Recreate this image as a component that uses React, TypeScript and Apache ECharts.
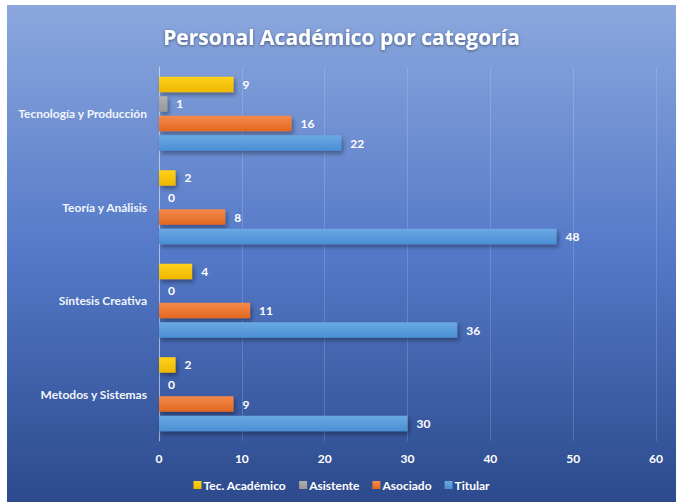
import React, { useEffect, useRef } from "react";
import * as echarts from "echarts";

const categories = ["Metodos y Sistemas", "Síntesis Creativa", "Teoría y Análisis", "Tecnología y Producción"];
const titular = [30, 36, 48, 22];
const asociado = [9, 11, 8, 16];
const asistente = [0, 0, 0, 1];
const tecAcademico = [2, 4, 2, 9];
const legendNames = ["Tec. Académico", "Asistente", "Asociado", "Titular"];

const FONT = "Lato";

function grad(top: string, bottom: string) {
  return new echarts.graphic.LinearGradient(0, 0, 0, 1, [
    { offset: 0, color: top },
    { offset: 1, color: bottom },
  ]);
}

export default function App() {
  const ref = useRef<HTMLDivElement>(null);
  useEffect(() => {
    document.body.style.margin = "0";
    const chart = echarts.init(ref.current!, null, { renderer: "svg" });
    const label = {
      show: true,
      position: "right" as const,
      distance: 9,
      color: "#ffffff",
      fontFamily: FONT,
      fontWeight: "bold" as const,
      fontSize: 12,
    };
    const shadow = {
      shadowColor: "rgba(0,0,0,0.35)",
      shadowBlur: 4,
      shadowOffsetX: 2,
      shadowOffsetY: 3,
    };
    const mk = (name: string, data: number[], top: string, bottom: string) => ({
      name,
      type: "bar",
      data,
      barWidth: 15.5,
      barGap: "26%",
      label,
      itemStyle: { color: grad(top, bottom), ...shadow },
      emphasis: { disabled: true },
    });
    chart.setOption({
      animation: false,
      backgroundColor: new echarts.graphic.LinearGradient(0, 0, 0, 1, [
        { offset: 0, color: "#8ba7dd" },
        { offset: 0.5, color: "#5479c8" },
        { offset: 1, color: "#2c4a8c" },
      ]),
      title: {
        text: "Personal Académico por categoría",
        left: "center",
        top: 16,
        textStyle: {
          color: "#ffffff",
          fontFamily: "Open Sans",
          fontWeight: "bold",
          fontSize: 21,
          textShadowColor: "rgba(0,0,0,0.45)",
          textShadowBlur: 3,
          textShadowOffsetY: 1,
        },
      },
      legend: {
        data: legendNames,
        bottom: 6,
        left: "center",
        icon: "rect",
        itemWidth: 8,
        itemHeight: 8,
        itemGap: 13,
        selectedMode: false,
        textStyle: { color: "#ffffff", fontFamily: FONT, fontWeight: "bold", fontSize: 12, padding: [0, 0, 0, -3] },
      },
      grid: { left: 152, right: 20, top: 62, bottom: 61 },
      xAxis: {
        type: "value",
        min: 0,
        max: 60,
        interval: 10,
        axisLine: { show: false },
        axisTick: { show: false },
        splitLine: { lineStyle: { color: "rgba(255,255,255,0.16)", width: 1 } },
        axisLabel: { color: "#ffffff", fontFamily: FONT, fontWeight: "bold", fontSize: 12, margin: 11 },
      },
      yAxis: {
        type: "category",
        data: categories,
        axisLine: { show: true, lineStyle: { color: "rgba(255,255,255,0.45)" } },
        axisTick: { show: false },
        axisLabel: { color: "#f2f5fb", fontFamily: FONT, fontWeight: "bold", fontSize: 12, margin: 12 },
      },
      series: [
        mk("Tec. Académico", tecAcademico, "#ffd21a", "#efb700"),
        mk("Asistente", asistente, "#b0b0b0", "#979797"),
        mk("Asociado", asociado, "#f58a4c", "#e2681f"),
        mk("Titular", titular, "#6aa9e3", "#4a8ed4"),
      ],
    });
    return () => chart.dispose();
  }, []);
  return (
    <div style={{ width: 676, height: 502, background: "#ffffff", position: "relative" }}>
      <div ref={ref} style={{ position: "absolute", left: 7, top: 5, width: 669, height: 497 }} />
    </div>
  );
}
